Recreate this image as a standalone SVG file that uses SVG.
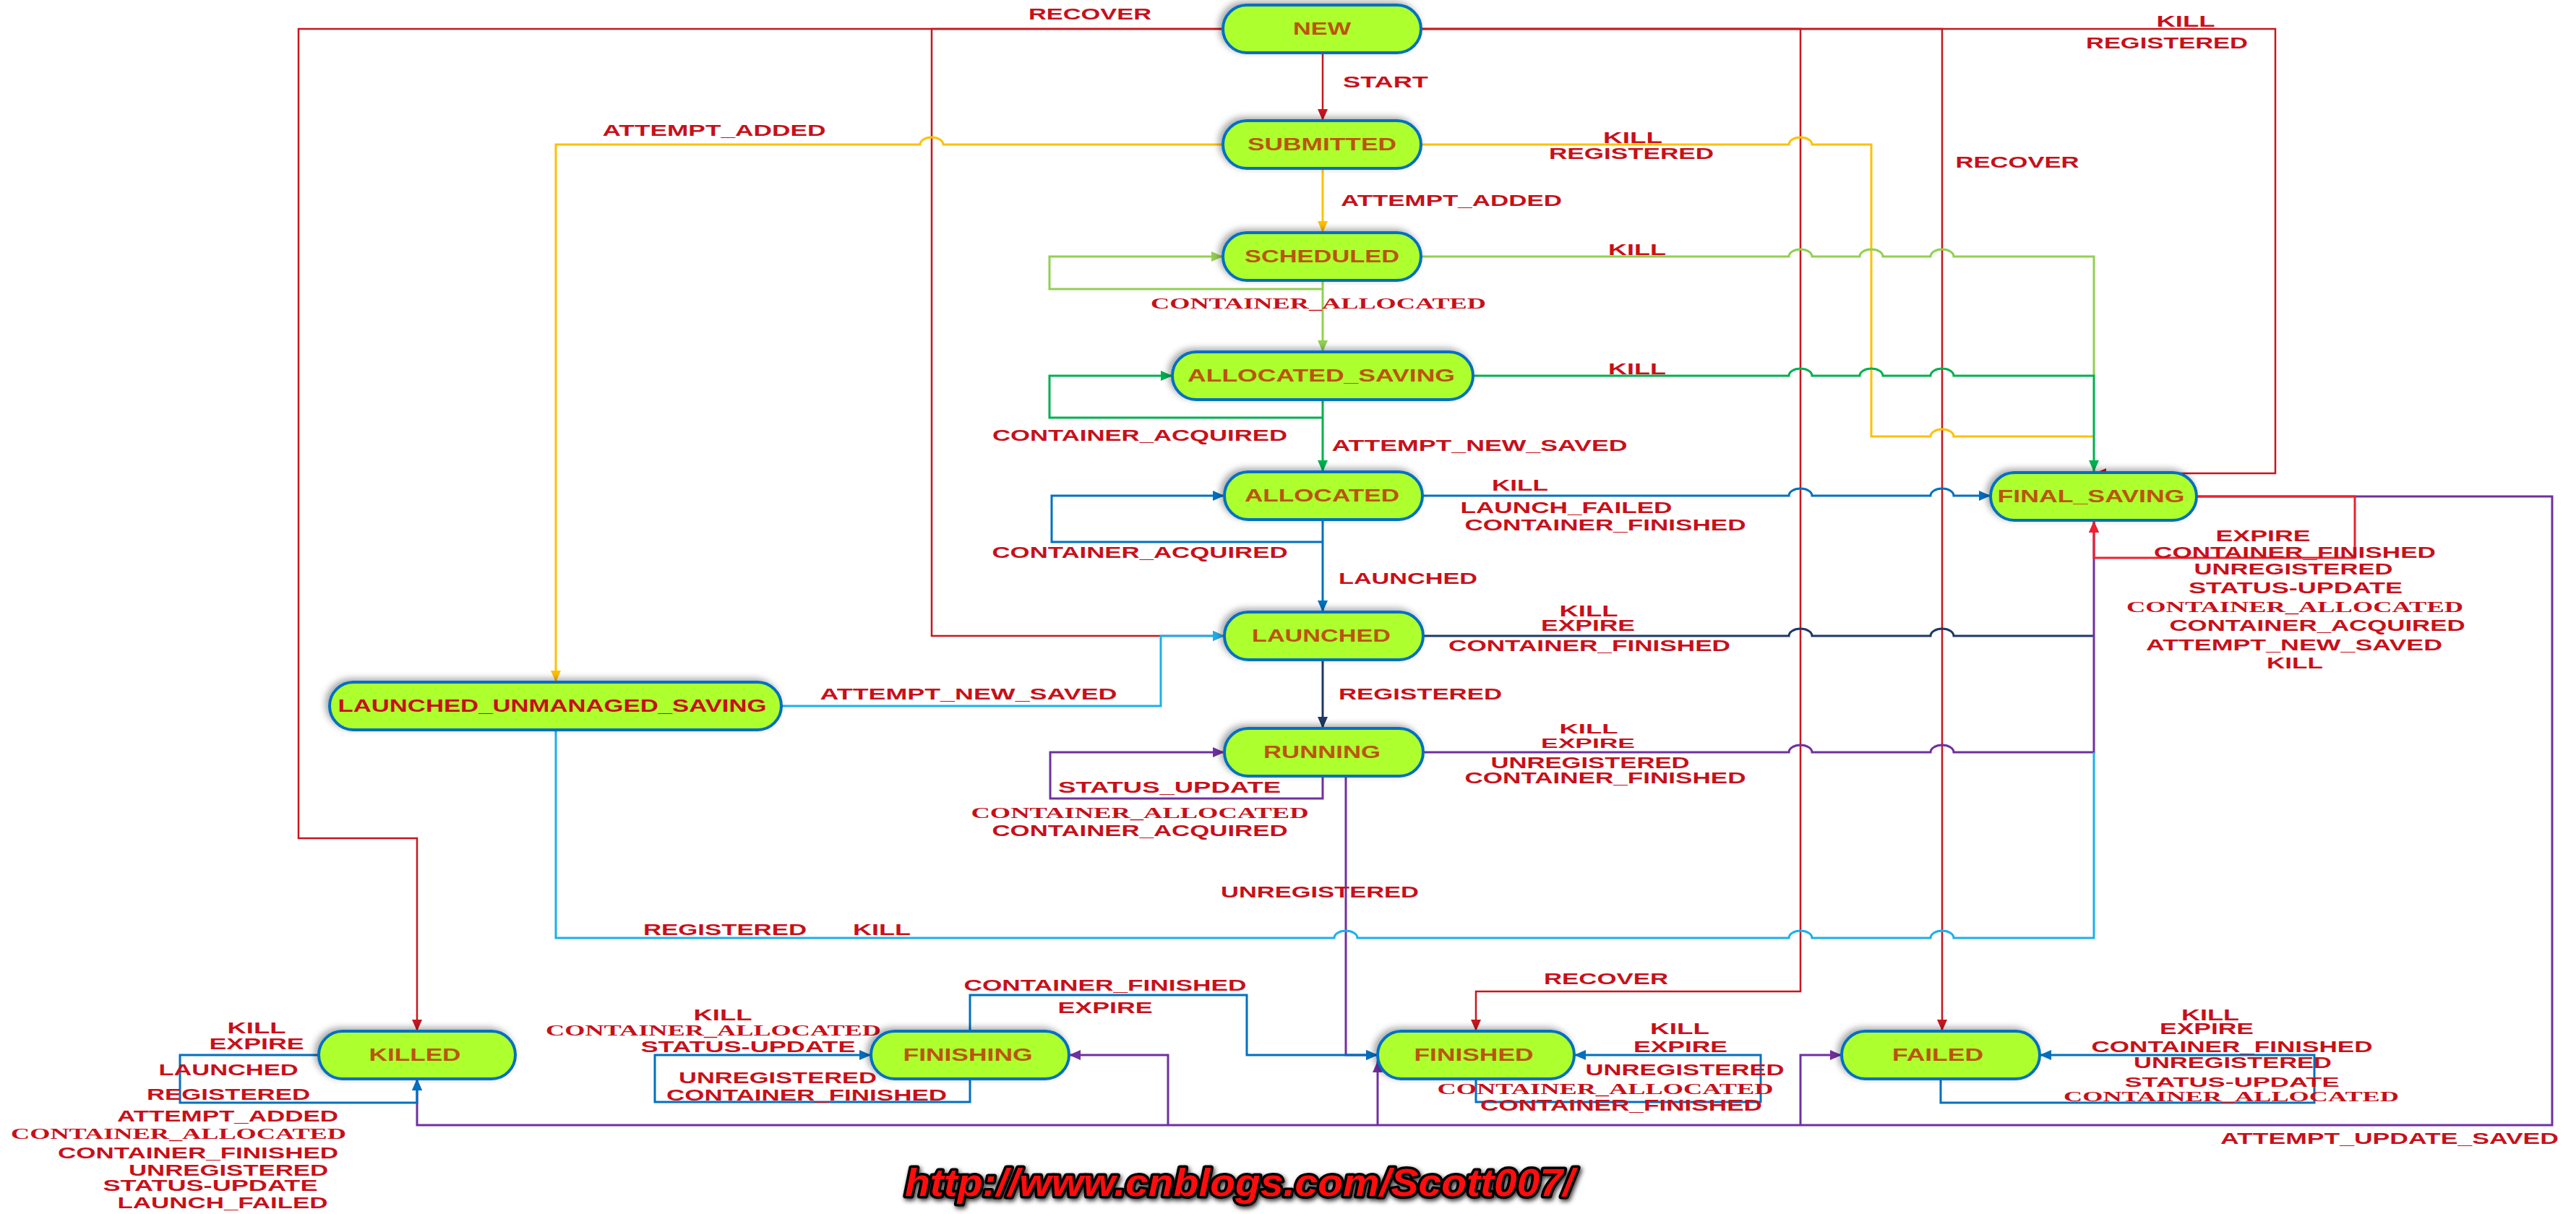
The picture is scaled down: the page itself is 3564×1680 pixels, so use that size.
<svg xmlns="http://www.w3.org/2000/svg" width="3564" height="1680" viewBox="0 0 3564 1680">
<defs>
<filter id="sh" x="-10%" y="-30%" width="120%" height="160%">
<feDropShadow dx="-4" dy="-3" stdDeviation="5" flood-color="#000" flood-opacity="0.35"/>
</filter>
<filter id="wm" x="-5%" y="-30%" width="110%" height="160%">
<feDropShadow dx="2" dy="3" stdDeviation="3" flood-color="#000" flood-opacity="0.8"/>
</filter>
<marker id="mr" viewBox="0 0 16 14" refX="16" refY="7" markerWidth="16" markerHeight="14" markerUnits="userSpaceOnUse" orient="auto"><path d="M0,0 L16,7 L0,14 z" fill="#C8161E"/></marker>
<marker id="mrb" viewBox="0 0 16 14" refX="16" refY="7" markerWidth="16" markerHeight="14" markerUnits="userSpaceOnUse" orient="auto"><path d="M0,0 L16,7 L0,14 z" fill="#F0202E"/></marker>
<marker id="mo" viewBox="0 0 16 14" refX="16" refY="7" markerWidth="16" markerHeight="14" markerUnits="userSpaceOnUse" orient="auto"><path d="M0,0 L16,7 L0,14 z" fill="#FFC000"/></marker>
<marker id="mlg" viewBox="0 0 16 14" refX="16" refY="7" markerWidth="16" markerHeight="14" markerUnits="userSpaceOnUse" orient="auto"><path d="M0,0 L16,7 L0,14 z" fill="#92D050"/></marker>
<marker id="mg" viewBox="0 0 16 14" refX="16" refY="7" markerWidth="16" markerHeight="14" markerUnits="userSpaceOnUse" orient="auto"><path d="M0,0 L16,7 L0,14 z" fill="#00B050"/></marker>
<marker id="mb" viewBox="0 0 16 14" refX="16" refY="7" markerWidth="16" markerHeight="14" markerUnits="userSpaceOnUse" orient="auto"><path d="M0,0 L16,7 L0,14 z" fill="#0070C0"/></marker>
<marker id="mn" viewBox="0 0 16 14" refX="16" refY="7" markerWidth="16" markerHeight="14" markerUnits="userSpaceOnUse" orient="auto"><path d="M0,0 L16,7 L0,14 z" fill="#1F3864"/></marker>
<marker id="mp" viewBox="0 0 16 14" refX="16" refY="7" markerWidth="16" markerHeight="14" markerUnits="userSpaceOnUse" orient="auto"><path d="M0,0 L16,7 L0,14 z" fill="#7030A0"/></marker>
<marker id="mlb" viewBox="0 0 16 14" refX="16" refY="7" markerWidth="16" markerHeight="14" markerUnits="userSpaceOnUse" orient="auto"><path d="M0,0 L16,7 L0,14 z" fill="#1CB0EC"/></marker>
<style>
.node rect{fill:#ADFF2F;stroke:#0070C0;stroke-width:4;filter:url(#sh)}
.node text{font-family:"Liberation Sans",Arial,sans-serif;font-weight:bold;font-size:24px;fill:#BC540C;text-anchor:middle}
.node text.red{fill:#C8101A}
.e{fill:none;stroke-width:3;stroke-linejoin:miter}
.r{stroke:#C8161E;stroke-width:2.5}
.rb{stroke:#F0202E}
.o{stroke:#FFC000}
.lg{stroke:#92D050}
.g{stroke:#00B050}
.b{stroke:#0070C0}
.nv{stroke:#1F3864}
.p{stroke:#7030A0}
.lb{stroke:#1CB0EC}
.l{font-family:"Liberation Sans",Arial,sans-serif;font-weight:bold;font-size:22px;fill:#C8101A;text-anchor:middle}
.s{font-family:"Liberation Serif","Times New Roman",serif;font-weight:bold;font-size:22px;fill:#C8101A;text-anchor:middle}
.sm{font-size:19px}
.wm{font-family:"Liberation Sans",Arial,sans-serif;font-weight:bold;font-style:italic;font-size:54px;fill:#FF1010;stroke:#000;stroke-width:7;paint-order:stroke;stroke-linejoin:round;text-anchor:middle;filter:url(#wm)}
</style>
</defs>
<rect width="3564" height="1680" fill="#FFFFFF"/>

<g id="connectors">
<!-- FINAL_SAVING ATTEMPT_UPDATE_SAVED (purple) -->
<path class="e p" d="M3039,687 H3531 V1557 H577 V1493" marker-end="url(#mp)"/>
<path class="e p" d="M1616,1557 V1460 H1479" marker-end="url(#mp)"/>
<path class="e p" d="M1906,1557 V1468" marker-end="url(#mp)"/>
<path class="e p" d="M2491,1557 V1460 H2548" marker-end="url(#mp)"/>
<!-- NEW (red) -->
<path class="e r" d="M1830,73 V167" marker-end="url(#mr)"/>
<path class="e r" d="M1692,40 H413 V1160 H577 V1427" marker-end="url(#mr)"/>
<path class="e r" d="M1692,40 H1289 V880 H1694" marker-end="url(#mr)"/>
<path class="e r" d="M1966,40 H3148 V655 H2898" marker-end="url(#mr)"/>
<path class="e r" d="M1966,40 H2491 V1372 H2042 V1427" marker-end="url(#mr)"/>
<path class="e r" d="M1966,40 H2687 V1427" marker-end="url(#mr)"/>
<!-- SUBMITTED (orange) -->
<path class="e o" d="M1830,233 V322" marker-end="url(#mo)"/>
<path class="e o" d="M1692,200 H1305 a16,10 0 0 0 -32,0 H769 V944" marker-end="url(#mo)"/>
<path class="e o" d="M1966,200 H2475 a16,10 0 0 1 32,0 H2589 V604 H2671 a16,10 0 0 1 32,0 H2897"/>
<!-- SCHEDULED (light green) -->
<path class="e lg" d="M1830,388 V487" marker-end="url(#mlg)"/>
<path class="e lg" d="M1830,400 H1452 V355 H1692" marker-end="url(#mlg)"/>
<path class="e lg" d="M1966,355 H2475 a16,10 0 0 1 32,0 H2573 a16,10 0 0 1 32,0 H2671 a16,10 0 0 1 32,0 H2897 V520"/>
<!-- ALLOCATED_SAVING (green) -->
<path class="e g" d="M1830,553 V653" marker-end="url(#mg)"/>
<path class="e g" d="M1830,578 H1452 V520 H1622" marker-end="url(#mg)"/>
<path class="e g" d="M2038,520 H2475 a16,10 0 0 1 32,0 H2573 a16,10 0 0 1 32,0 H2671 a16,10 0 0 1 32,0 H2897 V653" marker-end="url(#mg)"/>
<!-- ALLOCATED (blue) -->
<path class="e b" d="M1830,719 V847" marker-end="url(#mb)"/>
<path class="e b" d="M1830,750 H1455 V686 H1694" marker-end="url(#mb)"/>
<path class="e b" d="M1968,686 H2475 a16,10 0 0 1 32,0 H2671 a16,10 0 0 1 32,0 H2754" marker-end="url(#mb)"/>
<!-- LAUNCHED (navy) -->
<path class="e nv" d="M1830,913 V1008" marker-end="url(#mn)"/>
<path class="e nv" d="M1969,880 H2475 a16,10 0 0 1 32,0 H2671 a16,10 0 0 1 32,0 H2897"/>
<!-- RUNNING (purple) -->
<path class="e p" d="M1969,1041 H2475 a16,10 0 0 1 32,0 H2671 a16,10 0 0 1 32,0 H2897 V721" marker-end="url(#mp)"/>
<path class="e p" d="M1830,1074 V1105 H1453 V1041 H1694" marker-end="url(#mp)"/>
<path class="e p" d="M1830,1074 H1862 V1460 H1906" marker-end="url(#mp)"/>
<!-- LAUNCHED_UNMANAGED_SAVING (light blue) -->
<path class="e lb" d="M1081,977 H1606 V880 H1694" marker-end="url(#mlb)"/>
<path class="e lb" d="M769,1010 V1298 H1846 a16,10 0 0 1 32,0 H2475 a16,10 0 0 1 32,0 H2671 a16,10 0 0 1 32,0 H2897 V1041"/>
<!-- FINAL_SAVING self loop (bright red) -->
<path class="e rb" d="M3039,687 H3258 V772 H2897 V721" marker-end="url(#mrb)"/>
<!-- FINISHING / FINISHED / FAILED / KILLED (blue) -->
<path class="e b" d="M1342,1427 V1377 H1725 V1460 H1906" marker-end="url(#mb)"/>
<path class="e b" d="M1342,1493 V1525 H906 V1460 H1205" marker-end="url(#mb)"/>
<path class="e b" d="M2042,1493 V1525 H2436 V1460 H2178" marker-end="url(#mb)"/>
<path class="e b" d="M2685,1493 V1526 H3202 V1460 H2822" marker-end="url(#mb)"/>
<path class="e b" d="M441,1460 H249 V1526 H577 V1493" marker-end="url(#mb)"/>
</g>

<g id="labels">
<text class="l" x="1508" y="27" textLength="170" lengthAdjust="spacingAndGlyphs">RECOVER</text>
<text class="l" x="1917" y="121" textLength="118" lengthAdjust="spacingAndGlyphs">START</text>
<text class="l" x="2008" y="285" textLength="306" lengthAdjust="spacingAndGlyphs">ATTEMPT_ADDED</text>
<text class="l" x="2259" y="198" textLength="82" lengthAdjust="spacingAndGlyphs">KILL</text>
<text class="l" x="2257" y="220" textLength="228" lengthAdjust="spacingAndGlyphs">REGISTERED</text>
<text class="l" x="988" y="188" textLength="309" lengthAdjust="spacingAndGlyphs">ATTEMPT_ADDED</text>
<text class="l" x="3024" y="37" textLength="81" lengthAdjust="spacingAndGlyphs">KILL</text>
<text class="l" x="2998" y="67" textLength="224" lengthAdjust="spacingAndGlyphs">REGISTERED</text>
<text class="l" x="2791" y="232" textLength="171" lengthAdjust="spacingAndGlyphs">RECOVER</text>
<text class="l" x="2265" y="353" textLength="80" lengthAdjust="spacingAndGlyphs">KILL</text>
<text class="s" x="1824" y="427" textLength="464" lengthAdjust="spacingAndGlyphs">CONTAINER_ALLOCATED</text>
<text class="l" x="2265" y="518" textLength="80" lengthAdjust="spacingAndGlyphs">KILL</text>
<text class="l" x="1577" y="610" textLength="408" lengthAdjust="spacingAndGlyphs">CONTAINER_ACQUIRED</text>
<text class="l" x="2047" y="624" textLength="409" lengthAdjust="spacingAndGlyphs">ATTEMPT_NEW_SAVED</text>
<text class="l" x="2103" y="679" textLength="78" lengthAdjust="spacingAndGlyphs">KILL</text>
<text class="l" x="2167" y="710" textLength="293" lengthAdjust="spacingAndGlyphs">LAUNCH_FAILED</text>
<text class="l" x="2221" y="734" textLength="389" lengthAdjust="spacingAndGlyphs">CONTAINER_FINISHED</text>
<text class="l" x="1577" y="772" textLength="409" lengthAdjust="spacingAndGlyphs">CONTAINER_ACQUIRED</text>
<text class="l" x="1948" y="808" textLength="192" lengthAdjust="spacingAndGlyphs">LAUNCHED</text>
<text class="l" x="2198" y="853" textLength="81" lengthAdjust="spacingAndGlyphs">KILL</text>
<text class="l" x="2197" y="873" textLength="130" lengthAdjust="spacingAndGlyphs">EXPIRE</text>
<text class="l" x="2199" y="901" textLength="390" lengthAdjust="spacingAndGlyphs">CONTAINER_FINISHED</text>
<text class="l" x="1340" y="968" textLength="411" lengthAdjust="spacingAndGlyphs">ATTEMPT_NEW_SAVED</text>
<text class="l" x="1965" y="968" textLength="226" lengthAdjust="spacingAndGlyphs">REGISTERED</text>
<text class="l sm" x="2198" y="1015" textLength="81" lengthAdjust="spacingAndGlyphs">KILL</text>
<text class="l sm" x="2197" y="1035" textLength="130" lengthAdjust="spacingAndGlyphs">EXPIRE</text>
<text class="l" x="2200" y="1063" textLength="275" lengthAdjust="spacingAndGlyphs">UNREGISTERED</text>
<text class="l" x="2221" y="1084" textLength="389" lengthAdjust="spacingAndGlyphs">CONTAINER_FINISHED</text>
<text class="l" x="1618" y="1097" textLength="308" lengthAdjust="spacingAndGlyphs">STATUS_UPDATE</text>
<text class="s" x="1577" y="1132" textLength="467" lengthAdjust="spacingAndGlyphs">CONTAINER_ALLOCATED</text>
<text class="l" x="1577" y="1157" textLength="409" lengthAdjust="spacingAndGlyphs">CONTAINER_ACQUIRED</text>
<text class="l" x="1826" y="1242" textLength="274" lengthAdjust="spacingAndGlyphs">UNREGISTERED</text>
<text class="l" x="1003" y="1294" textLength="226" lengthAdjust="spacingAndGlyphs">REGISTERED</text>
<text class="l" x="1220" y="1294" textLength="80" lengthAdjust="spacingAndGlyphs">KILL</text>
<text class="l" x="1529" y="1371" textLength="391" lengthAdjust="spacingAndGlyphs">CONTAINER_FINISHED</text>
<text class="l" x="1529" y="1402" textLength="131" lengthAdjust="spacingAndGlyphs">EXPIRE</text>
<text class="l" x="2222" y="1362" textLength="172" lengthAdjust="spacingAndGlyphs">RECOVER</text>
<text class="l" x="2324" y="1431" textLength="82" lengthAdjust="spacingAndGlyphs">KILL</text>
<text class="l" x="2325" y="1456" textLength="130" lengthAdjust="spacingAndGlyphs">EXPIRE</text>
<text class="l" x="2331" y="1488" textLength="275" lengthAdjust="spacingAndGlyphs">UNREGISTERED</text>
<text class="s" x="2221" y="1514" textLength="465" lengthAdjust="spacingAndGlyphs">CONTAINER_ALLOCATED</text>
<text class="l" x="2243" y="1537" textLength="390" lengthAdjust="spacingAndGlyphs">CONTAINER_FINISHED</text>
<text class="l" x="355" y="1430" textLength="81" lengthAdjust="spacingAndGlyphs">KILL</text>
<text class="l" x="355" y="1452" textLength="131" lengthAdjust="spacingAndGlyphs">EXPIRE</text>
<text class="l" x="316" y="1488" textLength="193" lengthAdjust="spacingAndGlyphs">LAUNCHED</text>
<text class="l" x="316" y="1522" textLength="226" lengthAdjust="spacingAndGlyphs">REGISTERED</text>
<text class="l" x="315" y="1552" textLength="306" lengthAdjust="spacingAndGlyphs">ATTEMPT_ADDED</text>
<text class="s" x="247" y="1576" textLength="464" lengthAdjust="spacingAndGlyphs">CONTAINER_ALLOCATED</text>
<text class="l" x="274" y="1603" textLength="388" lengthAdjust="spacingAndGlyphs">CONTAINER_FINISHED</text>
<text class="l" x="316" y="1627" textLength="276" lengthAdjust="spacingAndGlyphs">UNREGISTERED</text>
<text class="l" x="291" y="1648" textLength="297" lengthAdjust="spacingAndGlyphs">STATUS-UPDATE</text>
<text class="l" x="308" y="1672" textLength="291" lengthAdjust="spacingAndGlyphs">LAUNCH_FAILED</text>
<text class="l" x="1000" y="1412" textLength="81" lengthAdjust="spacingAndGlyphs">KILL</text>
<text class="s" x="987" y="1433" textLength="464" lengthAdjust="spacingAndGlyphs">CONTAINER_ALLOCATED</text>
<text class="l" x="1035" y="1456" textLength="297" lengthAdjust="spacingAndGlyphs">STATUS-UPDATE</text>
<text class="l" x="1076" y="1499" textLength="274" lengthAdjust="spacingAndGlyphs">UNREGISTERED</text>
<text class="l" x="1116" y="1523" textLength="388" lengthAdjust="spacingAndGlyphs">CONTAINER_FINISHED</text>
<text class="l" x="3058" y="1412" textLength="80" lengthAdjust="spacingAndGlyphs">KILL</text>
<text class="l" x="3053" y="1431" textLength="130" lengthAdjust="spacingAndGlyphs">EXPIRE</text>
<text class="l" x="3088" y="1456" textLength="389" lengthAdjust="spacingAndGlyphs">CONTAINER_FINISHED</text>
<text class="l" x="3089" y="1478" textLength="274" lengthAdjust="spacingAndGlyphs">UNREGISTERED</text>
<text class="l sm" x="3088" y="1504" textLength="297" lengthAdjust="spacingAndGlyphs">STATUS-UPDATE</text>
<text class="s sm" x="3087" y="1524" textLength="464" lengthAdjust="spacingAndGlyphs">CONTAINER_ALLOCATED</text>
<text class="l" x="3306" y="1583" textLength="468" lengthAdjust="spacingAndGlyphs">ATTEMPT_UPDATE_SAVED</text>
<text class="l" x="3131" y="749" textLength="131" lengthAdjust="spacingAndGlyphs">EXPIRE</text>
<text class="l" x="3175" y="772" textLength="390" lengthAdjust="spacingAndGlyphs">CONTAINER_FINISHED</text>
<text class="l" x="3173" y="795" textLength="275" lengthAdjust="spacingAndGlyphs">UNREGISTERED</text>
<text class="l" x="3176" y="821" textLength="296" lengthAdjust="spacingAndGlyphs">STATUS-UPDATE</text>
<text class="s" x="3175" y="847" textLength="466" lengthAdjust="spacingAndGlyphs">CONTAINER_ALLOCATED</text>
<text class="l" x="3206" y="873" textLength="409" lengthAdjust="spacingAndGlyphs">CONTAINER_ACQUIRED</text>
<text class="l" x="3174" y="900" textLength="410" lengthAdjust="spacingAndGlyphs">ATTEMPT_NEW_SAVED</text>
<text class="l" x="3175" y="925" textLength="78" lengthAdjust="spacingAndGlyphs">KILL</text>
</g>

<g id="node-NEW" class="node"><rect x="1692" y="7" width="274" height="66" rx="33"/><text x="1829" y="48" textLength="80" lengthAdjust="spacingAndGlyphs">NEW</text></g>
<g id="node-SUBMITTED" class="node"><rect x="1692" y="167" width="274" height="66" rx="33"/><text x="1829" y="208" textLength="206" lengthAdjust="spacingAndGlyphs">SUBMITTED</text></g>
<g id="node-SCHEDULED" class="node"><rect x="1692" y="322" width="274" height="66" rx="33"/><text x="1829" y="363" textLength="214" lengthAdjust="spacingAndGlyphs">SCHEDULED</text></g>
<g id="node-ALLOCATED_SAVING" class="node"><rect x="1622" y="487" width="416" height="66" rx="33"/><text x="1828" y="528" textLength="370" lengthAdjust="spacingAndGlyphs">ALLOCATED_SAVING</text></g>
<g id="node-ALLOCATED" class="node"><rect x="1694" y="653" width="274" height="66" rx="33"/><text x="1829" y="694" textLength="214" lengthAdjust="spacingAndGlyphs">ALLOCATED</text></g>
<g id="node-LAUNCHED" class="node"><rect x="1694" y="847" width="275" height="66" rx="33"/><text x="1828" y="888" textLength="192" lengthAdjust="spacingAndGlyphs">LAUNCHED</text></g>
<g id="node-RUNNING" class="node"><rect x="1694" y="1008" width="275" height="66" rx="33"/><text x="1829" y="1049" textLength="162" lengthAdjust="spacingAndGlyphs">RUNNING</text></g>
<g id="node-LAUNCHED_UNMANAGED_SAVING" class="node"><rect x="456" y="944" width="625" height="66" rx="33"/><text class="red" x="764" y="985" textLength="593" lengthAdjust="spacingAndGlyphs">LAUNCHED_UNMANAGED_SAVING</text></g>
<g id="node-FINAL_SAVING" class="node"><rect x="2754" y="654" width="285" height="66" rx="33"/><text x="2893" y="695" textLength="259" lengthAdjust="spacingAndGlyphs">FINAL_SAVING</text></g>
<g id="node-KILLED" class="node"><rect x="441" y="1427" width="272" height="66" rx="33"/><text x="574" y="1468" textLength="127" lengthAdjust="spacingAndGlyphs">KILLED</text></g>
<g id="node-FINISHING" class="node"><rect x="1205" y="1427" width="274" height="66" rx="33"/><text x="1339" y="1468" textLength="179" lengthAdjust="spacingAndGlyphs">FINISHING</text></g>
<g id="node-FINISHED" class="node"><rect x="1906" y="1427" width="272" height="66" rx="33"/><text x="2039" y="1468" textLength="165" lengthAdjust="spacingAndGlyphs">FINISHED</text></g>
<g id="node-FAILED" class="node"><rect x="2548" y="1427" width="274" height="66" rx="33"/><text x="2681" y="1468" textLength="126" lengthAdjust="spacingAndGlyphs">FAILED</text></g>

<text class="wm" x="1715" y="1655" textLength="926" lengthAdjust="spacingAndGlyphs">http://www.cnblogs.com/Scott007/</text>
</svg>
